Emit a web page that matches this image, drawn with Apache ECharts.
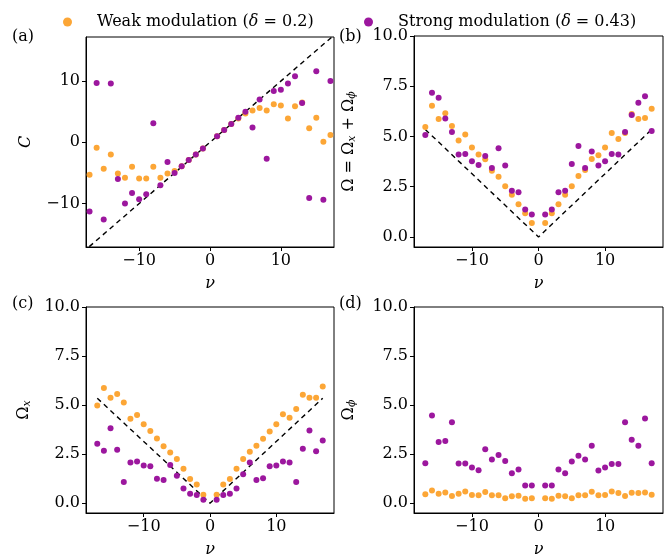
<!DOCTYPE html>
<html>
<head>
<meta charset="utf-8">
<script src="https://cdn.jsdelivr.net/npm/echarts@6/dist/echarts.min.js"></script>
<style>
  html, body { margin: 0; padding: 0; background: #fff; }
  #chart { width: 672px; height: 559px; }
</style>
</head>
<body>
<div id="chart"></div>
<script>
// nu values (0 is left out)
var nu = [-17, -16, -15, -14, -13, -12, -11, -10, -9, -8, -7, -6, -5, -4, -3, -2, -1,
          1, 2, 3, 4, 5, 6, 7, 8, 9, 10, 11, 12, 13, 14, 15, 16, 17];

// (a) C
var weakC = [-5.3, -0.9, -4.3, -2.0, -5.1, -5.8, -4.0, -5.9, -5.9, -4.0, -5.8, -5.1, -4.7, -3.9, -2.9, -2.0, -1.0,
             1.0, 2.0, 3.0, 3.9, 4.7, 5.2, 5.6, 5.2, 6.2, 6.0, 3.9, 5.9, 6.5, 2.3, 4.0, 0.1, 1.2];
var strongC = [-11.3, 9.7, -12.6, 9.6, -6.0, -10.0, -8.3, -9.3, -8.5, 3.1, -7.0, -3.2, -5.0, -3.9, -2.9, -2.0, -1.0,
               1.0, 2.0, 3.0, 4.0, 5.0, 2.4, 7.0, -2.7, 8.4, 8.6, 9.6, 10.8, 6.4, -9.1, 11.6, -9.4, 10.0];

// (b) Omega = Omega_x + Omega_phi
var weakOmega = [5.47, 6.53, 5.87, 6.15, 5.52, 4.8, 5.1, 4.45, 4.1, 3.87, 3.3, 3.0, 2.52, 2.1, 1.63, 1.18, 0.7,
                 0.7, 1.18, 1.63, 2.1, 2.52, 3.03, 3.33, 3.88, 4.07, 4.45, 5.17, 4.88, 5.17, 6.12, 5.87, 5.92, 6.38];
var strongOmega = [5.07, 7.17, 6.93, 5.9, 5.22, 4.1, 4.13, 3.77, 3.58, 4.03, 3.43, 4.42, 3.55, 2.3, 2.22, 1.37, 1.12,
                   1.12, 1.37, 2.22, 2.3, 3.63, 4.52, 3.43, 4.25, 3.55, 3.77, 4.13, 4.1, 5.22, 6.07, 6.68, 7.0, 5.27];

// (c) Omega_x
var weakOx = [4.98, 5.87, 5.37, 5.57, 5.13, 4.3, 4.5, 4.02, 3.68, 3.3, 2.9, 2.58, 2.25, 1.75, 1.23, 0.95, 0.43,
              0.43, 0.95, 1.23, 1.75, 2.25, 2.62, 2.93, 3.28, 3.65, 4.02, 4.53, 4.35, 4.8, 5.53, 5.37, 5.37, 5.95];
var strongOx = [3.03, 2.67, 3.82, 2.72, 1.08, 2.07, 2.13, 1.92, 1.88, 1.25, 1.18, 1.95, 1.4, 0.75, 0.48, 0.42, 0.18,
                0.18, 0.42, 0.48, 0.75, 1.48, 2.07, 1.18, 1.27, 1.88, 1.92, 2.13, 2.07, 1.08, 2.78, 3.7, 2.65, 3.2];

// (d) Omega_phi
var weakOphi = [0.45, 0.65, 0.48, 0.55, 0.37, 0.48, 0.6, 0.42, 0.4, 0.57, 0.4, 0.4, 0.25, 0.35, 0.38, 0.22, 0.25,
                0.25, 0.22, 0.38, 0.35, 0.25, 0.4, 0.4, 0.58, 0.4, 0.42, 0.6, 0.52, 0.37, 0.53, 0.52, 0.55, 0.43];
var strongOphi = [2.03, 4.47, 3.12, 3.17, 4.12, 2.02, 2.02, 1.82, 1.68, 2.75, 2.23, 2.45, 2.15, 1.53, 1.72, 0.9, 0.9,
                  0.9, 0.9, 1.72, 1.53, 2.13, 2.42, 2.23, 2.93, 1.67, 1.82, 2.0, 2.0, 4.12, 3.23, 2.93, 4.32, 2.03];

// dashed guide lines
var diagX = [-18, 18];
var diagY = [-18, 18];
var vLineX = [-17, 0, 17];
var vLineY = [5.35, 0, 5.35];

// tick labels
var xTicks = [-10, 0, 10];
var cTicks = [-10, 0, 10];
var omegaTicks = [0, 2.5, 5, 7.5, 10];

var orange = '#fca636';
var purple = '#9c179e';
var FONT = '"DejaVu Serif", serif';

function pairs(xs, ys) {
    return xs.map(function (x, i) { return [x, ys[i]]; });
}

function minusFmt(v) {
    return v < 0 ? '\u2212' + (-v) : String(v);
}

var richName = {
    t: { fontFamily: FONT, fontSize: 16, color: '#000' },
    i: { fontFamily: FONT, fontSize: 16, fontStyle: 'italic', color: '#000' },
    s: { fontFamily: FONT, fontSize: 11, fontStyle: 'italic', color: '#000', verticalAlign: 'bottom', padding: [8, 0, 0, 0] }
};

var grids = [
    { left: 86, top: 37, width: 248, height: 210 },
    { left: 414, top: 36, width: 249, height: 211 },
    { left: 86, top: 307, width: 248, height: 210 },
    { left: 414, top: 307, width: 249, height: 210 }
];
grids.forEach(function (g) {
    g.show = true;
    g.borderColor = '#000';
    g.borderWidth = 1;
    g.containLabel = false;
});

function xAxis(idx, min, max) {
    return {
        type: 'value', gridIndex: idx, min: min, max: max,
        name: 'ν', nameLocation: 'middle', nameGap: 29,
        nameTextStyle: { fontFamily: FONT, fontSize: 16, fontStyle: 'italic', color: '#000' },
        axisLine: { show: true, onZero: false, lineStyle: { color: '#000', width: 1 } },
        axisTick: { show: true, length: 4, customValues: xTicks, lineStyle: { color: '#000' } },
        axisLabel: { customValues: xTicks, formatter: minusFmt, fontFamily: FONT, fontSize: 16, color: '#000', margin: 6 },
        splitLine: { show: false }
    };
}

function yAxis(idx, min, max, ticks, name, gap, fmt) {
    return {
        type: 'value', gridIndex: idx, min: min, max: max,
        name: name, nameLocation: 'middle', nameGap: gap, nameRotate: 90,
        nameTextStyle: { rich: richName },
        axisLine: { show: true, onZero: false, lineStyle: { color: '#000', width: 1 } },
        axisTick: { show: true, length: 4, customValues: ticks, lineStyle: { color: '#000' } },
        axisLabel: { customValues: ticks, formatter: fmt, fontFamily: FONT, fontSize: 16, color: '#000', margin: 6 },
        splitLine: { show: false }
    };
}

function fixed1(v) { return v.toFixed(1); }

function scatter(name, color, idx, ys) {
    return {
        name: name, type: 'scatter', xAxisIndex: idx, yAxisIndex: idx,
        data: pairs(nu, ys), symbolSize: 6,
        itemStyle: { color: color, opacity: 1 },
        emphasis: { disabled: true }, z: 3
    };
}

function dashed(idx, xs, ys) {
    return {
        type: 'line', xAxisIndex: idx, yAxisIndex: idx, data: pairs(xs, ys),
        symbol: 'none', silent: true, clip: true, z: 2,
        lineStyle: { color: '#000', width: 1.4, type: [5, 4] }
    };
}

var legendRich = {
    g: { width: 20 },
    t: { fontFamily: FONT, fontSize: 16, color: '#000' },
    i: { fontFamily: FONT, fontSize: 16, fontStyle: 'italic', color: '#000' }
};

var myChart = echarts.init(document.getElementById('chart'), null, { renderer: 'canvas' });

var option = {
    animation: false,
    backgroundColor: '#fff',
    legend: [
        {
            data: ['weak'], left: 58, top: 9, icon: 'circle', itemWidth: 9, itemHeight: 9,
            selectedMode: false,
            formatter: function () { return '{g|}{t|Weak modulation (}{i|δ}{t| = 0.2)}'; },
            textStyle: { rich: legendRich }
        },
        {
            data: ['strong'], left: 359, top: 9, icon: 'circle', itemWidth: 9, itemHeight: 9,
            selectedMode: false,
            formatter: function () { return '{g|}{t|Strong modulation (}{i|δ}{t| = 0.43)}'; },
            textStyle: { rich: legendRich }
        }
    ],
    grid: grids,
    xAxis: [
        xAxis(0, -17.5, 17.5),
        xAxis(1, -18.7, 18.7),
        xAxis(2, -18.7, 18.7),
        xAxis(3, -18.7, 18.7)
    ],
    yAxis: [
        yAxis(0, -17.1, 17.2, cTicks, '{i|C}', 52, minusFmt),
        yAxis(1, -0.5, 10, omegaTicks, '{t|Ω = Ω}{s|x}{t| + Ω}{s|ϕ}', 56, fixed1),
        yAxis(2, -0.5, 10, omegaTicks, '{t|Ω}{s|x}', 53, fixed1),
        yAxis(3, -0.5, 10, omegaTicks, '{t|Ω}{s|ϕ}', 56, fixed1)
    ],
    graphic: [
        { type: 'text', left: 12, top: 29, style: { text: '(a)', font: '16px ' + FONT, fill: '#000' } },
        { type: 'text', left: 339, top: 29, style: { text: '(b)', font: '16px ' + FONT, fill: '#000' } },
        { type: 'text', left: 12, top: 296, style: { text: '(c)', font: '16px ' + FONT, fill: '#000' } },
        { type: 'text', left: 339, top: 296, style: { text: '(d)', font: '16px ' + FONT, fill: '#000' } }
    ],
    series: [
        dashed(0, diagX, diagY),
        scatter('weak', orange, 0, weakC),
        scatter('strong', purple, 0, strongC),
        dashed(1, vLineX, vLineY),
        scatter('weak', orange, 1, weakOmega),
        scatter('strong', purple, 1, strongOmega),
        dashed(2, vLineX, vLineY),
        scatter('weak', orange, 2, weakOx),
        scatter('strong', purple, 2, strongOx),
        scatter('weak', orange, 3, weakOphi),
        scatter('strong', purple, 3, strongOphi)
    ]
};

myChart.setOption(option);
</script>
</body>
</html>
